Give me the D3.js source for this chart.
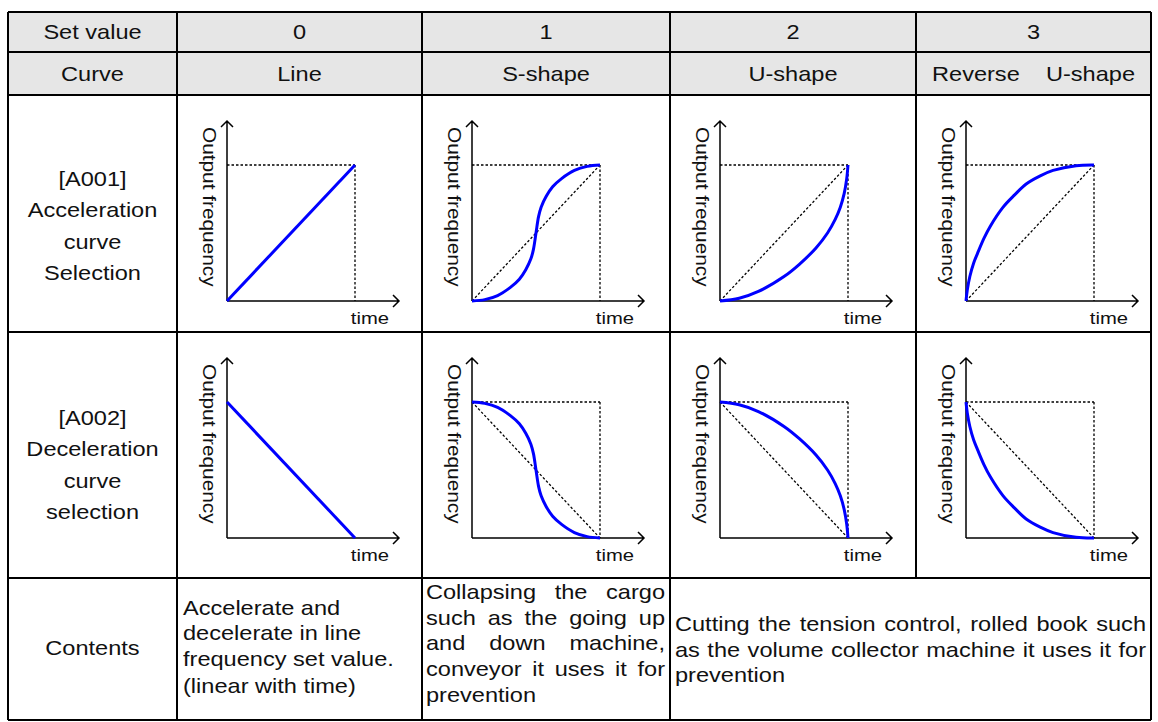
<!DOCTYPE html>
<html>
<head>
<meta charset="utf-8">
<script src="https://cdn.jsdelivr.net/npm/d3@7"></script>
<style>
  body { margin: 0; background: #fff; }
  svg { display: block; }
  text { font-family: "Liberation Sans", Arial, sans-serif; fill: #111; }
</style>
</head>
<body>
<svg width="1158" height="722"></svg>
<script>
// ---- table text ----
var rowHeads = ['Set value', 'Curve'];
var setValues = ['0', '1', '2', '3'];
var curveNames = ['Line', 'S-shape', 'U-shape', 'Reverse    U-shape'];
var accelLabel = ['[A001]', 'Acceleration', 'curve', 'Selection'];
var decelLabel = ['[A002]', 'Deceleration', 'curve', 'selection'];
var contentsHead = 'Contents';
var contentsLine = ['Accelerate and', 'decelerate in line', 'frequency set value.', '(linear with time)'];
var contentsS = ['Collapsing the cargo', 'such as the going up', 'and down machine,', 'conveyor it uses it for', 'prevention'];
var contentsU = ['Cutting the tension control, rolled book such', 'as the volume collector machine it uses it for', 'prevention'];

// ---- curves, [time, output frequency] as fraction of set time / set frequency ----
var accelCurves = [
  [[0, 0], [1, 1]],
  [[0, 0], [0.1, 0.01], [0.2, 0.04], [0.3, 0.1], [0.37, 0.16], [0.42, 0.23], [0.46, 0.31], [0.48, 0.38], [0.5, 0.5],
   [0.52, 0.62], [0.54, 0.69], [0.58, 0.77], [0.63, 0.84], [0.7, 0.9], [0.8, 0.96], [0.9, 0.99], [1, 1]],
  [[0, 0], [0.15, 0.02], [0.3, 0.07], [0.5, 0.18], [0.62, 0.27], [0.75, 0.39], [0.84, 0.5], [0.9, 0.6],
   [0.94, 0.69], [0.97, 0.79], [0.99, 0.9], [1, 1]],
  [[0, 0], [0.01, 0.08], [0.03, 0.18], [0.06, 0.28], [0.09, 0.35], [0.14, 0.46], [0.19, 0.55], [0.29, 0.69],
   [0.38, 0.78], [0.47, 0.86], [0.58, 0.92], [0.68, 0.96], [0.86, 0.995], [1, 1]]
];
var decelCurves = [
  [[0, 1], [1, 0]],
  [[0, 1], [0.1, 0.99], [0.2, 0.96], [0.3, 0.9], [0.37, 0.84], [0.42, 0.77], [0.46, 0.69], [0.48, 0.62], [0.5, 0.5],
   [0.52, 0.38], [0.54, 0.31], [0.58, 0.23], [0.63, 0.16], [0.7, 0.1], [0.8, 0.04], [0.9, 0.01], [1, 0]],
  [[0, 1], [0.15, 0.98], [0.3, 0.93], [0.5, 0.82], [0.62, 0.73], [0.75, 0.61], [0.84, 0.5], [0.9, 0.4],
   [0.94, 0.31], [0.97, 0.21], [0.99, 0.1], [1, 0]],
  [[0, 1], [0.01, 0.92], [0.03, 0.82], [0.06, 0.72], [0.09, 0.65], [0.14, 0.54], [0.19, 0.45], [0.29, 0.31],
   [0.38, 0.22], [0.47, 0.14], [0.58, 0.08], [0.68, 0.04], [0.86, 0.005], [1, 0]]
];
// which dotted guides each small chart shows
var accelBox = [true, true, true, true];
var accelDiag = [false, true, true, true];
var decelBox = [false, true, true, true];
var decelDiag = [false, true, true, true];

// ---- layout ----
var svg = d3.select('svg');
var colX = [8, 177, 422, 670, 916, 1151];
var rowY = [12, 52, 95, 332, 578, 720];
var fs = 20.5, sx = 1.15;      // main text size and horizontal stretch
var fsSmall = 17, sxSmall = 1.19;

function put(g, str, x, y, anchor, size, stretch) {
  return g.append('text')
    .attr('transform', 'translate(' + x + ',' + y + ') scale(' + (stretch || sx) + ',1)')
    .attr('text-anchor', anchor || 'middle')
    .style('font-size', (size || fs) + 'px')
    .style('white-space', 'pre')
    .text(str);
}

// header background
svg.append('rect')
  .attr('x', colX[0]).attr('y', rowY[0])
  .attr('width', colX[5] - colX[0]).attr('height', rowY[2] - rowY[0])
  .attr('fill', '#e6e6e6');

var txt = svg.append('g');
var cx = i => (colX[i] + colX[i + 1]) / 2;

put(txt, rowHeads[0], cx(0), 39);
put(txt, rowHeads[1], cx(0), 81);
setValues.forEach((v, i) => put(txt, v, cx(i + 1), 39));
curveNames.forEach((v, i) => put(txt, v, cx(i + 1), 81));

accelLabel.forEach((v, i) => put(txt, v, cx(0), rowY[2] + 91 + i * 31.3));
decelLabel.forEach((v, i) => put(txt, v, cx(0), rowY[3] + 93 + i * 31.3));

// contents row
put(txt, contentsHead, cx(0), 655);
[615, 640, 666, 693].forEach((y, i) => put(txt, contentsLine[i], colX[1] + 6, y, 'start'));

function justify(lines, x0, x1, y0, step) {
  lines.forEach((line, li) => {
    var y = y0 + li * step;
    var words = line.split(' ');
    if (li == lines.length - 1) { put(txt, line, x0, y, 'start'); return; }
    var nodes = words.map(w => put(txt, w, 0, y, 'start'));
    var widths = nodes.map(n => n.node().getComputedTextLength() * sx);
    var gap = (x1 - x0 - d3.sum(widths)) / (words.length - 1);
    var x = x0;
    nodes.forEach((n, k) => {
      n.attr('transform', 'translate(' + x + ',' + y + ') scale(' + sx + ',1)');
      x += widths[k] + gap;
    });
  });
}
justify(contentsS, colX[2] + 4, colX[3] - 5, 599, 25.7);
justify(contentsU, colX[3] + 5, colX[5] - 5, 631, 25.7);

// ---- small charts ----
var line = d3.line().curve(d3.curveCatmullRom.alpha(0.5));

function chart(ci, ri, pts, box, diag) {
  var left = colX[ci + 1], top = rowY[ri];
  var x = d3.scaleLinear().domain([0, 1]).range([left + 50, left + 178]);
  var y = d3.scaleLinear().domain([0, 1]).range([top + 206, top + 70]);
  var g = svg.append('g');
  var x0 = x(0), y0 = y(0);

  // dotted guides
  var dots = [];
  var start = pts[0], end = pts[pts.length - 1];
  if (box) {
    dots.push([[0, 1], [1, 1]]);
    dots.push([[1, 1], [1, 0]]);
  }
  if (diag) dots.push([start, end]);
  g.selectAll('.guide').data(dots).enter().append('line')
    .attr('class', 'guide')
    .attr('x1', d => x(d[0][0])).attr('y1', d => y(d[0][1]))
    .attr('x2', d => x(d[1][0])).attr('y2', d => y(d[1][1]))
    .attr('stroke', '#000').attr('stroke-width', 1.3)
    .attr('stroke-dasharray', '2.5,2');

  // axes with open arrow heads
  var tipY = top + 26, tipX = x(1) + 44;
  g.append('path')
    .attr('d', 'M' + x0 + ',' + y0 + 'V' + tipY + 'M' + (x0 - 6) + ',' + (tipY + 6) + 'L' + x0 + ',' + tipY + 'L' + (x0 + 6) + ',' + (tipY + 6) +
               'M' + x0 + ',' + y0 + 'H' + tipX + 'M' + (tipX - 6) + ',' + (y0 - 6) + 'L' + tipX + ',' + y0 + 'L' + (tipX - 6) + ',' + (y0 + 6))
    .attr('fill', 'none').attr('stroke', '#000').attr('stroke-width', 1.5);

  // curve
  g.append('path')
    .attr('d', line(pts.map(p => [x(p[0]), y(p[1])])))
    .attr('fill', 'none').attr('stroke', '#0000ff').attr('stroke-width', 3);

  // axis labels
  g.append('text')
    .attr('transform', 'translate(' + (x0 - 24.5) + ',' + (top + 32) + ') rotate(90) scale(' + sxSmall + ',1)')
    .style('font-size', '17.5px')
    .text('Output frequency');
  put(g, 'time', x(1) + 34, top + 229, 'end', fsSmall, sxSmall);
}

accelCurves.forEach((c, i) => chart(i, 2, c, accelBox[i], accelDiag[i]));
decelCurves.forEach((c, i) => chart(i, 3, c, decelBox[i], decelDiag[i]));

// ---- grid lines ----
var grid = svg.append('g').attr('stroke', '#000').attr('stroke-width', 2);
rowY.forEach(yy => grid.append('line').attr('x1', colX[0]).attr('x2', colX[5]).attr('y1', yy).attr('y2', yy));
colX.forEach((xx, i) => grid.append('line')
  .attr('x1', xx).attr('x2', xx)
  .attr('y1', rowY[0]).attr('y2', i == 4 ? rowY[4] : rowY[5]));
</script>
</body>
</html>
